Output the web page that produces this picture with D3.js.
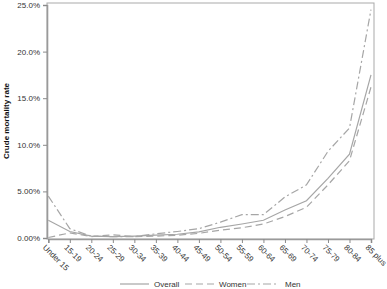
<!DOCTYPE html>
<html lang="en">
<head>
<meta charset="utf-8">
<title>Crude mortality rate</title>
<script src="https://d3js.org/d3.v7.min.js"></script>
<style type="text/css">
body { margin: 0; background: #fff; }
text { font-family: "Liberation Sans", Arial, sans-serif; }
</style>
</head>
<body>
<div id="chart"></div>
<script type="text/javascript">
// data (percent)
const ageGroups = ["Under 15", "15-19", "20-24", "25-29", "30-34", "35-39", "40-44", "45-49",
  "50-54", "55-59", "60-64", "65-69", "70-74", "75-79", "80-84", "85 plus"];
const overall = [1.9, 0.7, 0.2, 0.15, 0.2, 0.3, 0.4, 0.65, 1.15, 1.5, 1.9, 3.0, 4.0, 6.4, 9.0, 17.5];
const women = [0.05, 0.55, 0.15, 0.35, 0.15, 0.2, 0.3, 0.5, 0.85, 1.1, 1.5, 2.3, 3.3, 5.7, 8.3, 16.2];
const men = [4.5, 1.0, 0.2, 0.15, 0.15, 0.45, 0.7, 1.0, 1.7, 2.5, 2.5, 4.4, 5.7, 9.3, 11.8, 24.5];
const yTicks = [0, 5, 10, 15, 20, 25];
const yTickLabels = ["0.00%", "5.00%", "10.0%", "15.0%", "20.0%", "25.0%"];

const series = [
  {name: "Overall", values: overall, dash: null},
  {name: "Women", values: women, dash: "7,4"},
  {name: "Men", values: men, dash: "8,3,2,3"}
];

//Width and height
const w = 387;
const h = 289;
const plotL = 47, plotR = 374, plotT = 3, plotB = 239;

const xScale = d3.scalePoint()
  .domain(ageGroups)
  .range([48.3, 371]);

const yScale = d3.scaleLinear()
  .domain([0, 25])
  .range([238, 5]);

const svg = d3.select("#chart")
  .append("svg")
  .attr("width", w)
  .attr("height", h);

// frame
svg.append("rect")
  .attr("x", plotL)
  .attr("y", plotT)
  .attr("width", plotR - plotL)
  .attr("height", plotB - plotT)
  .attr("fill", "none")
  .attr("stroke", "#a9a9a9")
  .attr("stroke-width", 1);

//Y axis
const yAxis = d3.axisLeft(yScale)
  .tickValues(yTicks)
  .tickFormat((d, i) => yTickLabels[i])
  .tickSize(4)
  .tickPadding(3);

const gy = svg.append("g")
  .attr("transform", "translate(" + plotL + ",0)")
  .call(yAxis);

//X axis
const xAxis = d3.axisBottom(xScale)
  .tickSize(4)
  .tickFormat("");

const gx = svg.append("g")
  .attr("transform", "translate(0," + plotB + ")")
  .call(xAxis);

[gx, gy].forEach(g => {
  g.select(".domain").attr("stroke", "#9a9a9a").attr("stroke-width", 1.6);
  g.selectAll(".tick line").attr("stroke", "#8a8a8a");
  g.selectAll(".tick text")
    .attr("fill", "#333")
    .style("font-family", "'Liberation Sans', Arial, sans-serif")
    .style("font-size", "8px");
});

// rotated x labels
svg.append("g")
  .selectAll("text")
  .data(ageGroups)
  .join("text")
  .attr("transform", d => "translate(" + (xScale(d) - 4) + "," + (plotB + 7) + ") rotate(45)")
  .attr("dy", "0.35em")
  .attr("text-anchor", "start")
  .attr("fill", "#333")
  .style("font-size", "8px")
  .text(d => d);

// y title
svg.append("text")
  .attr("transform", "translate(9," + ((plotT + plotB) / 2) + ") rotate(-90)")
  .attr("text-anchor", "middle")
  .attr("fill", "#111")
  .style("font-size", "8px")
  .style("font-weight", "bold")
  .text("Crude mortality rate");

// lines
const line = d3.line()
  .x((d, i) => xScale(ageGroups[i]))
  .y(d => yScale(d));

svg.append("g")
  .selectAll("path")
  .data(series)
  .join("path")
  .attr("d", d => line(d.values))
  .attr("fill", "none")
  .attr("stroke", "#a6a6a6")
  .attr("stroke-width", 1.2)
  .attr("stroke-dasharray", d => d.dash);

// legend
const legendX = [120, 185, 247];
const leg = svg.append("g")
  .selectAll("g")
  .data(series)
  .join("g")
  .attr("transform", (d, i) => "translate(" + legendX[i] + ",284)");

leg.append("line")
  .attr("x1", 0)
  .attr("x2", (d, i) => i === 2 ? 32 : 29)
  .attr("stroke", "#a6a6a6")
  .attr("stroke-width", 1.2)
  .attr("stroke-dasharray", d => d.dash);

leg.append("text")
  .attr("x", (d, i) => i === 2 ? 38 : 34)
  .attr("dy", "0.35em")
  .attr("fill", "#333")
  .style("font-size", "8px")
  .text(d => d.name);
</script>
</body>
</html>
